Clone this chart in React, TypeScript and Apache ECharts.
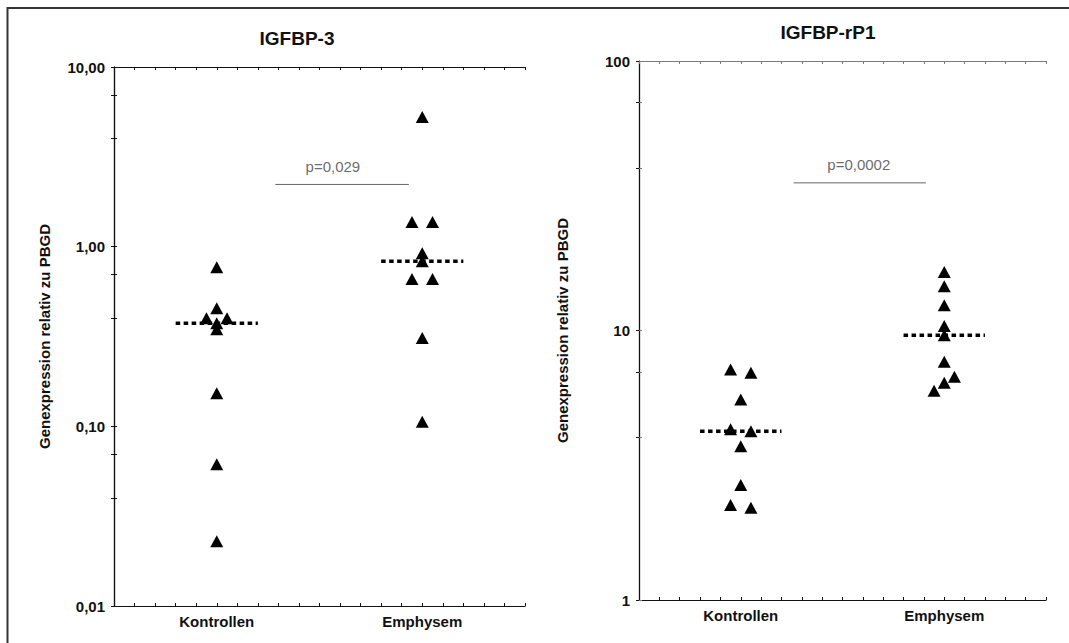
import React, { useEffect, useRef } from "react";
import * as echarts from "echarts";

// Group names and their positions on the x scale (0..4)
const groups = ["Kontrollen", "Emphysem"];
const groupPos = [1, 3];

// IGFBP-3 expression relative to PBGD
const igfbp3Kontrollen = [0.768, 0.454, 0.4, 0.4, 0.375, 0.347, 0.153, 0.0615, 0.0229];
const igfbp3KontrollenJitter = [0, 0, -0.1, 0.1, 0, 0, 0, 0, 0];
const igfbp3Emphysem = [5.27, 1.37, 1.37, 0.92, 0.83, 0.66, 0.66, 0.31, 0.106];
const igfbp3EmphysemJitter = [0, -0.1, 0.1, 0, 0, -0.1, 0.1, 0, 0];
const igfbp3PText = "p=0,029";

// IGFBP-rP1 expression relative to PBGD
const rp1Kontrollen = [7.17, 6.97, 5.55, 4.3, 4.23, 3.72, 2.67, 2.25, 2.2];
const rp1KontrollenJitter = [-0.1, 0.1, 0, -0.1, 0.1, 0, 0, -0.1, 0.1];
const rp1Emphysem = [16.5, 14.6, 12.4, 10.4, 9.6, 7.65, 6.73, 6.4, 5.97];
const rp1EmphysemJitter = [0, 0, 0, 0, 0, 0, 0.1, 0, -0.1];
const rp1PText = "p=0,0002";

// Significance bars: [xStart, xEnd, y] and text anchor [x, y]
const igfbp3Bar = [1.57, 2.87, 2.22];
const igfbp3BarText = [2.13, 2.8];
const rp1Bar = [1.52, 2.82, 35.3];
const rp1BarText = [2.16, 41.4];

const FONT = "'Liberation Sans', Arial, sans-serif";

function median(values: number[]): number {
  const s = [...values].sort((a, b) => a - b);
  const m = Math.floor(s.length / 2);
  return s.length % 2 ? s[m] : (s[m - 1] + s[m]) / 2;
}

function points(values: number[], jitter: number[], pos: number) {
  return values.map((v, i) => [pos + jitter[i], v]);
}

function xAxes(gridIndex: number, color: string, topColor: string) {
  const common = {
    gridIndex,
    type: "value",
    min: 0,
    max: 4,
    interval: 0.2,
    splitLine: { show: false },
    axisTick: { show: true, inside: true, length: 3, lineStyle: { color, width: 1 } },
  };
  return [
    {
      ...common,
      position: "bottom",
      axisLine: { show: true, onZero: false, lineStyle: { color, width: 1.2 } },
      axisLabel: {
        show: true,
        margin: 8,
        color: "#111",
        fontFamily: FONT,
        fontSize: 15,
        fontWeight: "bold",
        interval: 0,
        formatter: (v: number) => {
          const idx = groupPos.findIndex((p) => Math.abs(p - v) < 1e-6);
          return idx >= 0 ? groups[idx] : "";
        },
      },
    },
    {
      ...common,
      position: "top",
      axisLine: { show: true, onZero: false, lineStyle: { color: topColor, width: 1.2 } },
      axisTick: { show: true, inside: true, length: 3, lineStyle: { color: topColor, width: 1 } },
      axisLabel: { show: false },
    },
  ];
}

function yAxes(
  gridIndex: number,
  min: number,
  max: number,
  fmt: (v: number) => string,
  nameGap: number,
  leftColor: string,
  rightColor: string
) {
  const common = {
    gridIndex,
    type: "log",
    logBase: 10,
    min,
    max,
    splitLine: { show: false },
  };
  return [
    {
      ...common,
      position: "left",
      name: "Genexpression relativ zu PBGD",
      nameLocation: "middle",
      nameGap,
      nameTextStyle: { fontFamily: FONT, fontSize: 15, fontWeight: "bold", color: "#111" },
      axisLine: { show: true, lineStyle: { color: leftColor, width: 1.2 } },
      axisTick: { show: true, inside: true, length: 3, lineStyle: { color: leftColor } },
      minorTick: { show: true, splitNumber: 3, length: 3, lineStyle: { color: leftColor } },
      axisLabel: {
        show: true,
        margin: 9,
        color: "#111",
        fontFamily: FONT,
        fontSize: 15,
        fontWeight: "bold",
        formatter: fmt,
      },
    },
    {
      ...common,
      position: "right",
      axisLine: { show: true, lineStyle: { color: rightColor, width: 1.2 } },
      axisTick: { show: true, inside: true, length: 3, lineStyle: { color: rightColor } },
      minorTick: { show: true, splitNumber: 3, length: 3, lineStyle: { color: rightColor } },
      axisLabel: { show: false },
    },
  ];
}

function panelSeries(
  axisIndex: number,
  kontrollen: number[],
  kJitter: number[],
  emphysem: number[],
  eJitter: number[],
  bar: number[],
  barText: number[],
  pText: string
) {
  const axes = { xAxisIndex: axisIndex, yAxisIndex: axisIndex };
  const groupsData = [
    points(kontrollen, kJitter, groupPos[0]),
    points(emphysem, eJitter, groupPos[1]),
  ];
  const medians = [median(kontrollen), median(emphysem)];
  const out: any[] = [];
  groupsData.forEach((d) => {
    out.push({
      ...axes,
      type: "scatter",
      data: d,
      symbol: "triangle",
      symbolSize: [13, 12],
      itemStyle: { color: "#000", opacity: 1 },
      z: 3,
    });
  });
  medians.forEach((m, i) => {
    out.push({
      ...axes,
      type: "line",
      data: [
        [groupPos[i] - 0.4, m],
        [groupPos[i] + 0.4, m],
      ],
      symbol: "none",
      lineStyle: { color: "#000", width: 3.5, type: [4.5, 3.5], cap: "butt" },
      z: 4,
    });
  });
  out.push({
    ...axes,
    type: "line",
    data: [
      [bar[0], bar[2]],
      [bar[1], bar[2]],
    ],
    symbol: "none",
    lineStyle: { color: "#666", width: 1 },
    z: 2,
  });
  out.push({
    ...axes,
    type: "scatter",
    data: [[barText[0], barText[1]]],
    symbolSize: 1,
    itemStyle: { color: "rgba(0,0,0,0)" },
    label: {
      show: true,
      position: "inside",
      formatter: pText,
      color: "#444",
      fontFamily: FONT,
      fontSize: 15,
    },
    z: 2,
  });
  return out;
}

export default function App() {
  const ref = useRef<HTMLDivElement>(null);

  useEffect(() => {
    if (!ref.current) return;
    const chart = echarts.init(ref.current, undefined, { renderer: "svg" });

    const option: any = {
      animation: false,
      backgroundColor: "#fff",
      grid: [
        { left: 114, top: 67, width: 411, height: 539, containLabel: false },
        { left: 639, top: 61, width: 407, height: 539, containLabel: false },
      ],
      xAxis: [...xAxes(0, "#111", "#111"), ...xAxes(1, "#111", "#7a7a7a")],
      yAxis: [
        ...yAxes(0, 0.01, 10, (v: number) => v.toFixed(2).replace(".", ","), 62, "#111", "#111"),
        ...yAxes(1, 1, 100, (v: number) => String(Math.round(v)), 69, "#7a7a7a", "#111"),
      ],
      series: [
        ...panelSeries(
          0,
          igfbp3Kontrollen,
          igfbp3KontrollenJitter,
          igfbp3Emphysem,
          igfbp3EmphysemJitter,
          igfbp3Bar,
          igfbp3BarText,
          igfbp3PText
        ),
        ...panelSeries(
          2,
          rp1Kontrollen,
          rp1KontrollenJitter,
          rp1Emphysem,
          rp1EmphysemJitter,
          rp1Bar,
          rp1BarText,
          rp1PText
        ),
      ],
      graphic: [
        {
          type: "line",
          shape: { x1: 7, y1: 8, x2: 1069, y2: 8 },
          style: { stroke: "#333", lineWidth: 2 },
        },
        {
          type: "line",
          shape: { x1: 7.5, y1: 7, x2: 7.5, y2: 643 },
          style: { stroke: "#333", lineWidth: 2 },
        },
        {
          type: "text",
          x: 297,
          y: 38,
          style: {
            text: "IGFBP-3",
            fontFamily: FONT,
            fontSize: 19,
            fontWeight: "bold",
            fill: "#111",
            textAlign: "center",
            textVerticalAlign: "middle",
          },
        },
        {
          type: "text",
          x: 828,
          y: 32,
          style: {
            text: "IGFBP-rP1",
            fontFamily: FONT,
            fontSize: 19,
            fontWeight: "bold",
            fill: "#111",
            textAlign: "center",
            textVerticalAlign: "middle",
          },
        },
      ],
    };

    chart.setOption(option);
    return () => chart.dispose();
  }, []);

  return (
    <div
      ref={ref}
      style={{ position: "absolute", left: 0, top: 0, width: 1069, height: 643 }}
    />
  );
}
